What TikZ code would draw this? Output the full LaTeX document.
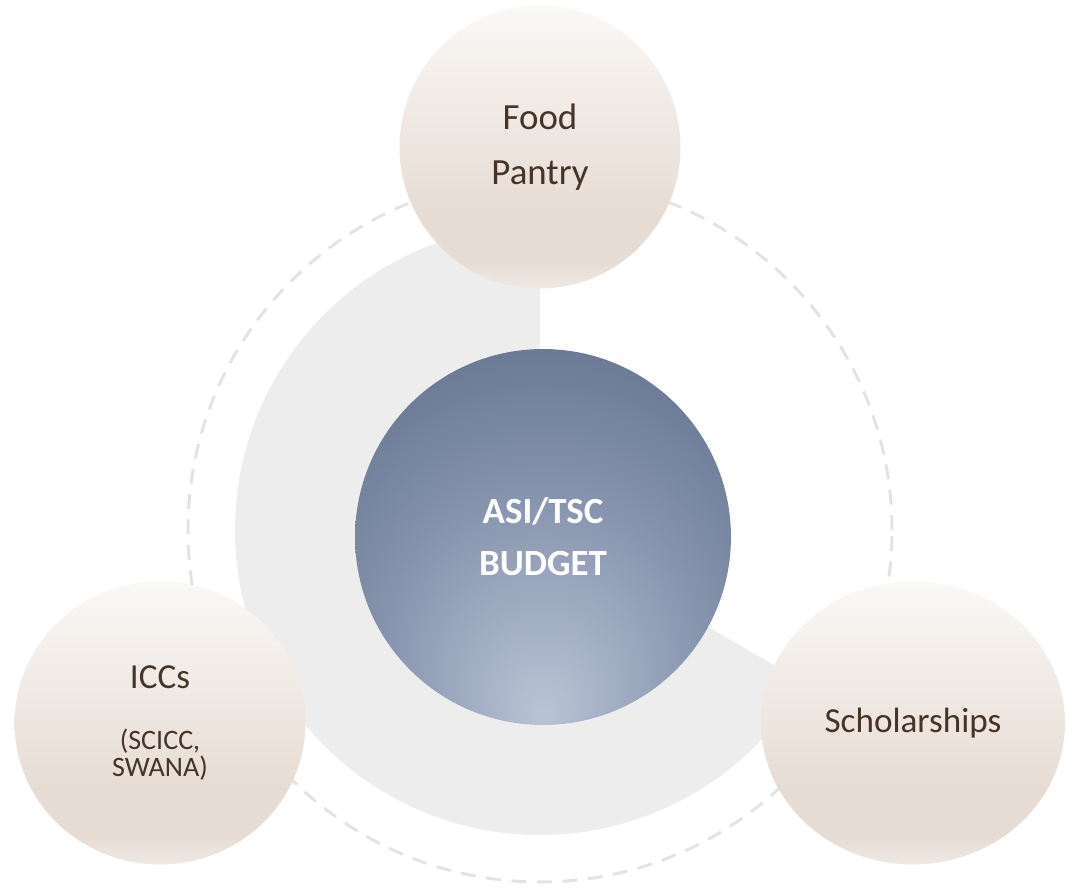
\documentclass[tikz,border=0pt]{standalone}
\usepackage{fontspec}
\setmainfont{Carlito}
\usepackage{xcolor}
\usetikzlibrary{shapes.geometric}
\definecolor{ringgrey}{HTML}{EDEDED}
\definecolor{dashgrey}{HTML}{E3E3E3}
\definecolor{satink}{HTML}{463428}
\definecolor{sattop}{HTML}{FAF8F6}
\definecolor{satbottom}{HTML}{E7DCD3}
\definecolor{satlow}{HTML}{EFE8E3}
\definecolor{budgetlight}{HTML}{BAC4D6}
\definecolor{budgetmid}{HTML}{8492AC}
\definecolor{budgetdark}{HTML}{5D6C87}
\pgfdeclareverticalshading{satfade}{100bp}{color(0bp)=(satlow); color(25bp)=(satlow); color(30bp)=(satbottom); color(38bp)=(satbottom); color(75bp)=(sattop); color(100bp)=(sattop)}
\pgfdeclareradialshading{budgetglow}{\pgfpoint{0bp}{-24bp}}{color(0bp)=(budgetlight); color(22bp)=(budgetmid); color(43bp)=(budgetdark); color(60bp)=(budgetdark)}
\tikzstyle{orbit}=[draw=dashgrey, line width=1.7pt, dash pattern=on 8.5pt off 6pt]
\tikzstyle{satellite}=[ellipse, shading=satfade, minimum height=5.66cm, inner sep=0pt, text=satink, align=center, font=\fontsize{20}{30}\selectfont]
\tikzstyle{hub}=[circle, shading=budgetglow, minimum size=7.52cm, inner sep=0pt, text=white, align=center, font=\bfseries\fontsize{21}{29.5}\selectfont]

\begin{document}
\begin{tikzpicture}[x=0.02cm,y=0.02cm]
\useasboundingbox (0,0) rectangle (1072,889);
\coordinate (c) at (540,359);
\coordinate (top) at (540,742);
\coordinate (left) at (160,166);
\coordinate (right) at (913,166);
% ring and grey slice behind the budget
\draw[orbit] (c) circle (352);
\fill[ringgrey] (c) -- ++(90:305) arc (90:330:305) -- cycle;
\node[hub] (budget) at (543,352) {ASI/TSC\\BUDGET};
% the three uses
\node[satellite, minimum width=5.62cm, font=\fontsize{21}{31}\selectfont] (pantry) at (top) {Food\\Pantry};
\node[satellite, minimum width=5.82cm, font=\fontsize{16}{15.5}\selectfont] (iccs) at (left)
  {{\fontsize{20}{24}\selectfont ICCs}\\[19pt](SCICC,\\SWANA)};
\node[satellite, minimum width=6.08cm] (scholar) at (right) {Scholarships};
\end{tikzpicture}
\end{document}
